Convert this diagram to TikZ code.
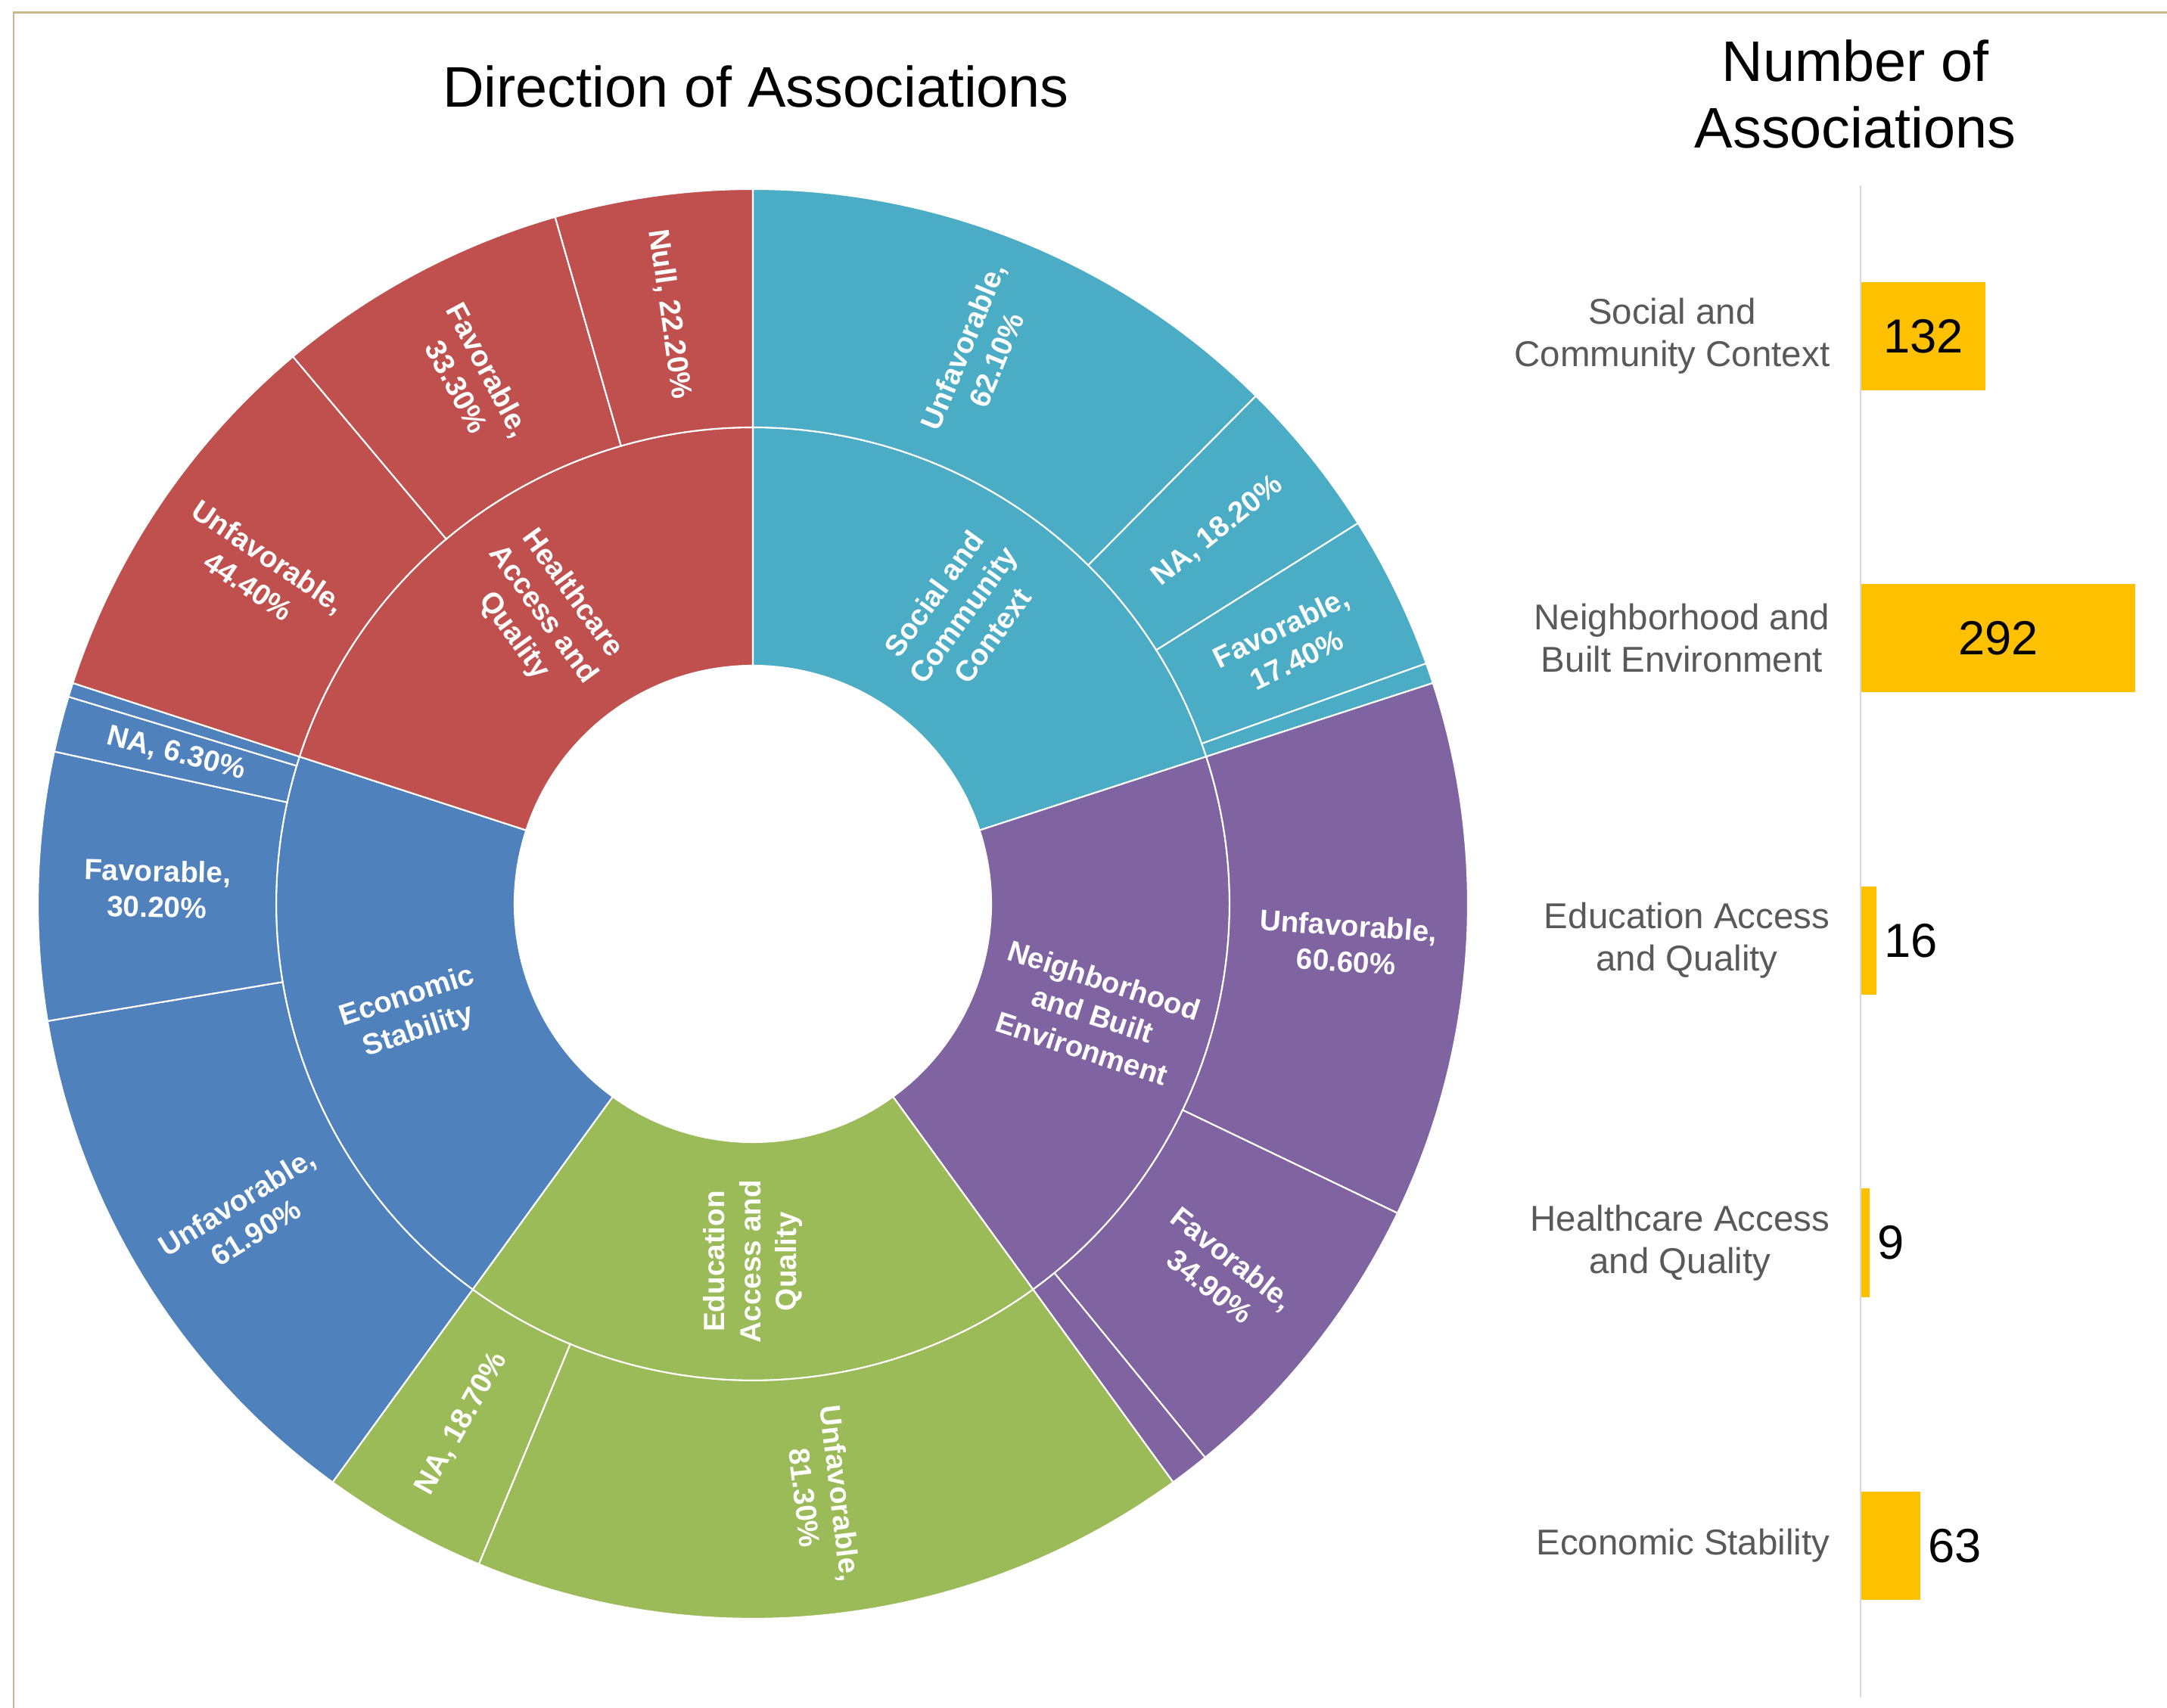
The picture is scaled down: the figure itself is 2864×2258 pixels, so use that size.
\documentclass[tikz,border=0pt]{standalone}
\usepackage{fontspec}
\setmainfont{Liberation Sans}
\usepackage{xcolor}
\usetikzlibrary{positioning}

\definecolor{hcred}{HTML}{C0504D}
\definecolor{socteal}{HTML}{4BACC6}
\definecolor{nbpurple}{HTML}{8064A2}
\definecolor{edugreen}{HTML}{9BBB59}
\definecolor{ecoblue}{HTML}{4F81BD}
\definecolor{bargold}{HTML}{FFC000}
\definecolor{axisgray}{HTML}{D9D9D9}
\definecolor{labelgray}{HTML}{595959}
\definecolor{frametan}{HTML}{C9B98A}

\begin{document}
\begin{tikzpicture}[x=0.01cm, y=0.01cm,
    sector/.style={draw=white, line width=0.6pt},
    lbl/.style={text=white, font=\fontsize{11}{13.5}\selectfont\bfseries, align=center, inner sep=0pt},
    ttl/.style={font=\fontsize{21.5}{25}\selectfont, anchor=base, inner sep=0pt},
    cat/.style={text=labelgray, font=\fontsize{13.5}{16}\selectfont, align=center, anchor=east, inner sep=0pt},
    val/.style={font=\fontsize{18}{21}\selectfont, inner sep=0pt},
    bar/.style={fill=bargold, minimum height=1.43cm, inner sep=0pt, outer sep=0pt, anchor=west}
]
\useasboundingbox (0,0) rectangle (2864,2258);

% Frame
\draw[frametan, line width=0.85pt] (18,0) -- (18,2241) -- (2864,2241);

% Titles
\node[ttl] (dirtitle) at (999,2116) {Direction of Associations};
\node[ttl] (numtitle) at (2452,2150) {Number of};
\node[ttl] (numtitle2) at (2452,2062) {Associations};

% Left panel - Sunburst
\begin{scope}[shift={(995,1063)}]

% inner ring
\foreach \a/\b/\c in {90/18/socteal, 18/-54/nbpurple, -54/-126/edugreen,
    -126/-198/ecoblue, -198/-270/hcred}
  \filldraw[sector, fill=\c] (\a:315) arc[start angle=\a, end angle=\b, radius=315]
    -- (\b:630) arc[start angle=\b, end angle=\a, radius=630] -- cycle;

% outer ring
\foreach \a/\b/\c in {90/45.288/socteal, 45.288/32.184/socteal, 32.184/19.656/socteal, 19.656/18/socteal,
    18/-25.632/nbpurple, -25.632/-50.76/nbpurple, -50.76/-54/nbpurple,
    -54/-112.536/edugreen, -112.536/-126/edugreen,
    -126/-170.568/ecoblue, -170.568/-192.312/ecoblue, -192.312/-196.848/ecoblue, -196.848/-198/ecoblue,
    -198/-229.968/hcred, -229.968/-253.944/hcred, -253.944/-270/hcred}
  \filldraw[sector, fill=\c] (\a:630) arc[start angle=\a, end angle=\b, radius=630]
    -- (\b:945) arc[start angle=\b, end angle=\a, radius=945] -- cycle;

% category labels
\node[lbl, rotate=54] (soc) at (54:472.5) {Social and\\Community\\Context};
\node[lbl, rotate=-18] (nb) at (-18:472.5) {Neighborhood\\and Built\\Environment};
\node[lbl, rotate=90] (edu) at (-90:472.5) {Education\\Access and\\Quality};
\node[lbl, rotate=18] (eco) at (198:472.5) {Economic\\Stability};
\node[lbl, rotate=-54] (hc) at (126:472.5) {Healthcare\\Access and\\Quality};

% direction labels
\node[lbl, rotate=67.644] (socU) at (67.644:787.5) {Unfavorable,\\62.10\%};
\node[lbl, rotate=38.736] (socN) at (38.736:787.5) {NA, 18.20\%};
\node[lbl, rotate=25.92] (socF) at (25.92:787.5) {Favorable,\\17.40\%};
\node[lbl, rotate=-3.816] (nbU) at (-3.816:787.5) {Unfavorable,\\60.60\%};
\node[lbl, rotate=-38.196] (nbF) at (-38.196:787.5) {Favorable,\\34.90\%};
\node[lbl, rotate=-83.268] (eduU) at (-83.268:787.5) {Unfavorable,\\81.30\%};
\node[lbl, rotate=60.732] (eduN) at (-119.268:787.5) {NA, 18.70\%};
\node[lbl, rotate=31.716] (ecoU) at (211.716:787.5) {Unfavorable,\\61.90\%};
\node[lbl, rotate=-1.44] (ecoF) at (178.56:787.5) {Favorable,\\30.20\%};
\node[lbl, rotate=-14.58] (ecoN) at (165.42:787.5) {NA, 6.30\%};
\node[lbl, rotate=-33.984] (hcU) at (146.016:787.5) {Unfavorable,\\44.40\%};
\node[lbl, rotate=-61.956] (hcF) at (118.044:787.5) {Favorable,\\33.30\%};
\node[lbl, rotate=-81.936] (hcN) at (98.064:787.5) {Null, 22.20\%};
\end{scope}

% Right panel - Number of associations
\draw[axisgray, line width=0.6pt] (2459,14) -- (2459,2013);

\node[bar, minimum width=1.635cm] (socbar) at (2460,1813.5) {};
\node[bar, minimum width=3.616cm] (nbbar) at (2460,1414.5) {};
\node[bar, minimum width=0.198cm] (edubar) at (2460,1014.5) {};
\node[bar, minimum width=0.111cm] (hcbar) at (2460,615) {};
\node[bar, minimum width=0.78cm] (ecobar) at (2460,214.5) {};

\node[val] (socval) at (socbar) {132};
\node[val] (nbval) at (nbbar) {292};
\node[val, right=0.1cm of edubar] (eduval) {16};
\node[val, right=0.1cm of hcbar] (hcval) {9};
\node[val, right=0.1cm of ecobar] (ecoval) {63};

\node[cat] (soccat) at (2419,1813.5) {Social and\\Community Context};
\node[cat] (nbcat) at (2419,1414.5) {Neighborhood and\\Built Environment};
\node[cat] (educat) at (2419,1014.5) {Education Access\\and Quality};
\node[cat] (hccat) at (2419,615) {Healthcare Access\\and Quality};
\node[cat] (ecocat) at (2419,214.5) {Economic Stability};

\end{tikzpicture}
\end{document}
